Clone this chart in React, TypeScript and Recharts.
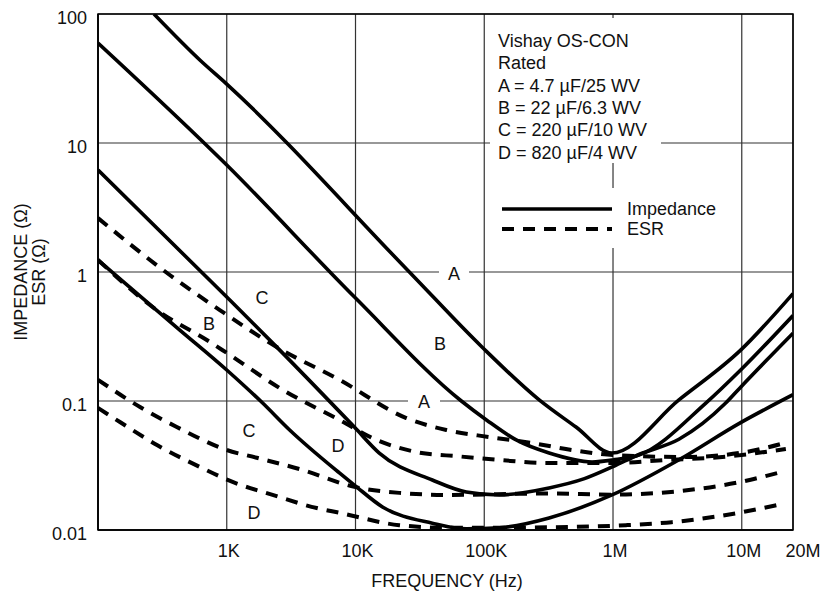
import { LineChart, Line, XAxis, YAxis, CartesianGrid } from 'recharts'

if (typeof document !== 'undefined') document.body.style.margin = '0'

const FONT = '"Liberation Sans", Arial, Helvetica, sans-serif'

// axis ticks
const freqTicks = [1e3, 1e4, 1e5, 1e6, 1e7, 2.5e7]
const freqLabels = ['1K', '10K', '100K', '1M', '10M', '20M']
const ohmTicks = [0.01, 0.1, 1, 10, 100]
const ohmLabels = ['0.01', '0.1', '1', '10', '100']

// impedance curves, [Hz, ohm]
const impA = [[272, 100], [618, 44], [1e3, 28.6], [2.62e4, 1.0], [9.6e4, 0.262], [2.67e5, 0.102], [5.16e5, 0.0628], [9.8e5, 0.0395], [3.25e6, 0.102], [9.8e6, 0.248], [2.5e7, 0.68]]
const impB = [[100, 59.6], [1e3, 6.75], [1e4, 0.628], [6.64e4, 0.1], [1.04e5, 0.0713], [1.77e5, 0.0499], [3.19e5, 0.0395], [6.87e5, 0.0337], [1e6, 0.0349], [1.59e6, 0.0381], [5.26e6, 0.0964], [9.8e6, 0.174], [2.5e7, 0.46]]
const impC = [[100, 6.18], [1e3, 0.64], [2.58e3, 0.248], [9.8e3, 0.0628], [1.53e4, 0.0395], [3.95e4, 0.0244], [7.25e4, 0.0197], [1.31e5, 0.0187], [3.19e5, 0.0212], [6e5, 0.025], [1e6, 0.031], [1.59e6, 0.0385], [3.25e6, 0.0505], [7.5e6, 0.0964], [9.8e6, 0.128], [2.5e7, 0.335]]
const impD = [[100, 1.24], [432, 0.355], [1e3, 0.174], [1.9e3, 0.0964], [3.08e3, 0.0596], [7.5e3, 0.0277], [9.8e3, 0.0223], [1.62e4, 0.0151], [3.95e4, 0.0113], [7.25e4, 0.0102], [1.31e5, 0.0104], [3.19e5, 0.0124], [9.82e5, 0.0187], [3.25e6, 0.035], [9.8e6, 0.068], [2.5e7, 0.112]]

// ESR curves, [Hz, ohm]
const esrA = [[100, 2.62], [361, 0.948], [883, 0.507], [2.44e3, 0.262], [7.5e3, 0.146], [2.48e4, 0.0738], [5.07e4, 0.0596], [1.09e5, 0.0526], [2.36e5, 0.0472], [4.81e5, 0.0417], [1e6, 0.0381], [3.68e6, 0.0368], [1.07e7, 0.0402], [2.3e7, 0.0481]]
const esrB = [[100, 1.24], [300, 0.49], [700, 0.297], [1e3, 0.236], [2.72e3, 0.122], [7.5e3, 0.0713], [1.46e4, 0.0499], [2.97e4, 0.0402], [6.4e4, 0.0372], [1.31e5, 0.0349], [3.03e5, 0.0331], [1e6, 0.0331], [2.58e6, 0.0349], [7.5e6, 0.037], [2.2e7, 0.0425]]
const esrC = [[100, 0.146], [212, 0.0898], [409, 0.0629], [1e3, 0.0417], [1.71e3, 0.0363], [3.88e3, 0.0292], [9.8e3, 0.0216], [2.19e4, 0.0194], [5.36e4, 0.0187], [3.19e5, 0.0192], [1e6, 0.0188], [3.88e6, 0.0204], [9.8e6, 0.0236], [2.04e7, 0.0282]]
const esrD = [[100, 0.0883], [148, 0.0687], [287, 0.0456], [618, 0.0308], [1.11e3, 0.0236], [2.27e3, 0.0187], [4.99e3, 0.0148], [7.5e3, 0.0136], [2.19e4, 0.0109], [5.36e4, 0.0104], [3.19e5, 0.0105], [1.26e6, 0.0109], [2.86e6, 0.0115], [9.5e6, 0.0136], [2.04e7, 0.0159]]

const legendLines = ['Vishay OS-CON', 'Rated', 'A = 4.7 \u00b5F/25 WV', 'B = 22 \u00b5F/6.3 WV', 'C = 220 \u00b5F/10 WV', 'D = 820 \u00b5F/4 WV']

const pts = (a: number[][]) => a.map(([f, z]) => ({ f, z }))

const W = 822
const H = 596
const LEFT = 98
const TOP = 14
const RIGHT = 29
const BOTTOM = 66

const FreqTick = (props: any) => {
  const { x, y, payload } = props
  const i = freqTicks.indexOf(payload.value)
  const last = i === freqTicks.length - 1
  return (
    <text x={x + (last ? 10 : 2)} y={y + 27} textAnchor="middle" fontSize={18} fontFamily={FONT} fill="#111">
      {freqLabels[i]}
    </text>
  )
}

const OhmTick = (props: any) => {
  const { x, y, payload } = props
  const i = ohmTicks.indexOf(payload.value)
  return (
    <text x={x - 11} y={y + 9.5} textAnchor="end" fontSize={18} fontFamily={FONT} fill="#111">
      {ohmLabels[i]}
    </text>
  )
}

const curveLabel = (t: string, x: number, y: number, gap?: number) => (
  <g key={t + x + y}>
    {gap ? <rect x={x - gap / 2} y={y - 9} width={gap} height={18} fill="#fff" /> : null}
    <text x={x} y={y + 6.5} textAnchor="middle" fontSize={18} fontFamily={FONT} fill="#111">{t}</text>
  </g>
)

export default function App() {
  const solid = [impA, impB, impC, impD]
  const dashed = [esrA, esrB, esrC, esrD]
  return (
    <div style={{ position: 'relative', width: W, height: H, background: '#fff' }}>
      <LineChart width={W} height={H} margin={{ top: TOP, right: RIGHT, bottom: 0, left: 0 }}>
        <CartesianGrid stroke="#333" strokeWidth={1.2} />
        <XAxis
          dataKey="f"
          type="number"
          scale="log"
          domain={[100, 2.5e7]}
          allowDataOverflow
          ticks={freqTicks}
          height={BOTTOM}
          tickSize={0}
          tickMargin={0}
          tick={<FreqTick />}
          axisLine={{ stroke: '#000', strokeWidth: 1.5 }}
          interval={0}
        />
        <YAxis
          dataKey="z"
          type="number"
          scale="log"
          domain={[0.01, 100]}
          allowDataOverflow
          ticks={ohmTicks}
          width={LEFT}
          tickSize={0}
          tickMargin={0}
          tick={<OhmTick />}
          axisLine={{ stroke: '#000', strokeWidth: 1.5 }}
          interval={0}
        />
        {solid.map((s, i) => (
          <Line key={'z' + i} data={pts(s)} dataKey="z" type="monotone" stroke="#000" strokeWidth={3.6} dot={false} activeDot={false} isAnimationActive={false} />
        ))}
        {dashed.map((s, i) => (
          <Line key={'e' + i} data={pts(s)} dataKey="z" type="monotone" stroke="#000" strokeWidth={4} strokeDasharray="12 9" dot={false} activeDot={false} isAnimationActive={false} />
        ))}
      </LineChart>
      <svg width={W} height={H} style={{ position: 'absolute', left: 0, top: 0, pointerEvents: 'none' }}>
        <rect x={LEFT} y={TOP} width={W - LEFT - RIGHT} height={H - TOP - BOTTOM} fill="none" stroke="#000" strokeWidth={1.5} />
        {/* rating notes */}
        <rect x={490} y={18} width={171} height={145} fill="#fff" />
        {legendLines.map((t, i) => (
          <text key={t} x={498} y={47 + i * 22.3} fontSize={18} fontFamily={FONT} fill="#111">{t}</text>
        ))}
        {/* legend */}
        <rect x={495} y={188} width={228} height={60} fill="#fff" />
        <line x1={502} x2={612} y1={209} y2={209} stroke="#000" strokeWidth={3.6} />
        <line x1={502} x2={612} y1={229} y2={229} stroke="#000" strokeWidth={4} strokeDasharray="12 9" />
        <text x={627} y={215} fontSize={18} fontFamily={FONT} fill="#111">Impedance</text>
        <text x={627} y={235} fontSize={18} fontFamily={FONT} fill="#111">ESR</text>
        {/* curve labels */}
        {curveLabel('A', 454, 273, 30)}
        {curveLabel('B', 440, 343)}
        {curveLabel('A', 424, 401, 32)}
        {curveLabel('C', 262, 297)}
        {curveLabel('B', 209, 323)}
        {curveLabel('C', 249, 430)}
        {curveLabel('D', 338, 445)}
        {curveLabel('D', 254, 512)}
        {/* axis titles */}
        <text x={447} y={587} textAnchor="middle" fontSize={18} fontFamily={FONT} fill="#111">FREQUENCY (Hz)</text>
        <text transform="translate(27,272) rotate(-90)" textAnchor="middle" fontSize={18} fontFamily={FONT} fill="#111">IMPEDANCE ({'\u03a9'})</text>
        <text transform="translate(45,272) rotate(-90)" textAnchor="middle" fontSize={18} fontFamily={FONT} fill="#111">ESR ({'\u03a9'})</text>
      </svg>
    </div>
  )
}
